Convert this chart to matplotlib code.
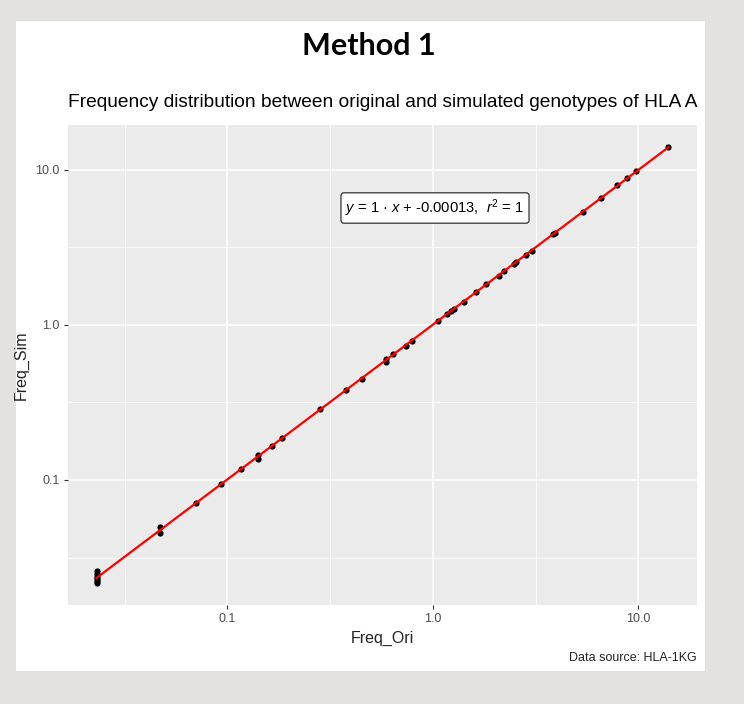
import numpy as np
import matplotlib
matplotlib.use("Agg")
import matplotlib.pyplot as plt
from matplotlib.patches import Rectangle

# ---------------- data ----------------
freq_ori = [0.0231, 0.0231, 0.0231, 0.0231, 0.0231, 0.0231,
            0.0468, 0.0468, 0.0700, 0.0935, 0.117, 0.141, 0.141, 0.164, 0.185,
            0.283, 0.378, 0.452, 0.591, 0.591, 0.640, 0.740, 0.791,
            1.057, 1.17, 1.22, 1.26, 1.41, 1.62, 1.81, 2.09, 2.21, 2.47, 2.53,
            2.83, 3.02, 3.83, 3.91, 5.35, 6.61, 7.91, 8.84, 9.78, 14.0]
freq_sim = [0.0216, 0.0222, 0.0229, 0.0238, 0.0247, 0.0259,
            0.0453, 0.0495, 0.0705, 0.0940, 0.118, 0.137, 0.144, 0.166, 0.186,
            0.285, 0.380, 0.450, 0.578, 0.604, 0.645, 0.735, 0.785,
            1.06, 1.17, 1.22, 1.27, 1.40, 1.63, 1.82, 2.08, 2.22, 2.46, 2.54,
            2.84, 3.01, 3.85, 3.93, 5.36, 6.60, 7.92, 8.85, 9.76, 14.05]
tick_values = [0.1, 1.0, 10.0]
tick_labels = ["0.1", "1.0", "10.0"]
minor_values = [10 ** -1.5, 10 ** -0.5, 10 ** 0.5]

slide_title = "Method 1"
plot_title = "Frequency distribution between original and simulated genotypes of HLA A"
x_label = "Freq_Ori"
y_label = "Freq_Sim"
caption = "Data source: HLA-1KG"
eq_label = r"$y$ = 1 · $x$ + -0.00013,  $r^2$ = 1"

# ---------------- figure ----------------
plt.rcParams['font.family'] = ['Liberation Sans', 'DejaVu Sans']
plt.rcParams['mathtext.fontset'] = 'custom'
plt.rcParams['mathtext.rm'] = 'Liberation Sans'
plt.rcParams['mathtext.it'] = 'Liberation Sans:italic'

W, H = 744, 704
fig = plt.figure(figsize=(W / 100, H / 100), dpi=100)
fig.patch.set_facecolor('#e4e2df')

# white card
card = Rectangle((16 / W, 1 - 671 / H), (705 - 16) / W, (671 - 21) / H,
                 transform=fig.transFigure, facecolor='white', edgecolor='none', zorder=-10)
fig.patches.append(card)

fig.text(369 / W, 1 - 46 / H, slide_title, ha='center', va='center',
         fontsize=22, fontweight='bold', family=['Lato', 'DejaVu Sans'], color='black')

ax = fig.add_axes([68 / W, 1 - 605 / H, (697 - 68) / W, (605 - 125) / H])
ax.set_zorder(1)
ax.set_facecolor('#ebebeb')
for s in ax.spines.values():
    s.set_visible(False)

ax.set_xscale('log')
ax.set_yscale('log')

lx = np.log10(freq_ori)
ly = np.log10(freq_sim)
ex = 0.05 * (lx.max() - lx.min())
ey = 0.05 * (ly.max() - ly.min())
ax.set_xlim(10 ** (lx.min() - ex), 10 ** (lx.max() + ex))
ax.set_ylim(10 ** (ly.min() - ey), 10 ** (ly.max() + ey))

ax.xaxis.set_major_locator(matplotlib.ticker.FixedLocator(tick_values))
ax.yaxis.set_major_locator(matplotlib.ticker.FixedLocator(tick_values))
ax.xaxis.set_minor_locator(matplotlib.ticker.FixedLocator(minor_values))
ax.yaxis.set_minor_locator(matplotlib.ticker.FixedLocator(minor_values))
ax.set_xticklabels(tick_labels)
ax.set_yticklabels(tick_labels)
ax.xaxis.set_minor_formatter(matplotlib.ticker.NullFormatter())
ax.yaxis.set_minor_formatter(matplotlib.ticker.NullFormatter())

ax.grid(which='major', color='white', linewidth=1.1)
ax.grid(which='minor', color='white', linewidth=0.55)
ax.set_axisbelow(True)
ax.tick_params(which='major', length=3, width=0.8, color='#333333',
               labelsize=9, labelcolor='#4d4d4d', pad=3)
ax.tick_params(which='minor', length=0)

# fit (in log space) and line
b, a = np.polyfit(lx, ly, 1)
xs = np.array([lx.min(), lx.max()])
ax.plot(10 ** xs, 10 ** (a + b * xs), color='#ff0000', linewidth=1.6, zorder=3)
ax.scatter(freq_ori, freq_sim, s=20, color='black', zorder=2, linewidths=0)

ax.set_xlabel(x_label, fontsize=11.5, color='#222222', labelpad=4)
ax.set_ylabel(y_label, fontsize=11.5, color='#222222', labelpad=5)

ax.text(0.0, 1.03, plot_title, transform=ax.transAxes, ha='left', va='bottom',
        fontsize=13.75, color='black')

ax.text((435 - 68) / (697 - 68), 1 - (208 - 125) / (605 - 125), eq_label,
        transform=ax.transAxes, ha='center', va='center', fontsize=10.6, color='black',
        bbox=dict(boxstyle='round,pad=0.3,rounding_size=0.2', facecolor='white',
                  edgecolor='#333333', linewidth=0.9))

fig.text(697 / W, 1 - 658 / H, caption, ha='right', va='center', fontsize=9,
         color='#222222')

fig.savefig('out.png', dpi=100, facecolor=fig.get_facecolor())
